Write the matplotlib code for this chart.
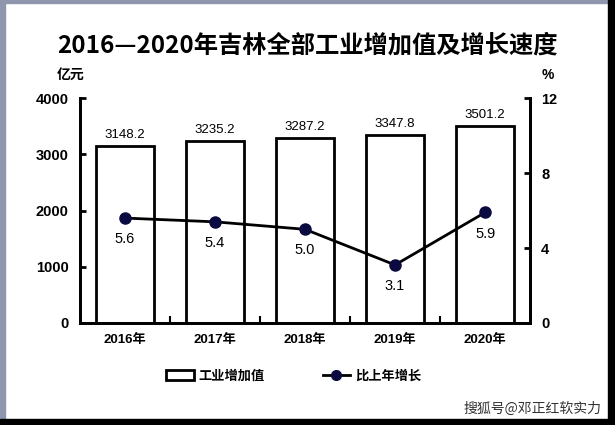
import numpy as np
import matplotlib.pyplot as plt
from matplotlib.patches import Rectangle

plt.rcParams['font.family'] = ['Liberation Sans', 'Noto Sans CJK SC']

years = ['2016年', '2017年', '2018年', '2019年', '2020年']
value = [3148.2, 3235.2, 3287.2, 3347.8, 3501.2]
growth = [5.6, 5.4, 5.0, 3.1, 5.9]

fig = plt.figure(figsize=(6.15, 4.25), dpi=100)
ax = fig.add_axes([0.130, 0.24, 0.732, 0.529])
x = np.arange(len(years))

ax.bar(x, value, width=0.64, color='white', edgecolor='black', linewidth=2)
for i, v in enumerate(value):
    ax.text(i, v + 90, f'{v:.1f}', ha='center', va='bottom', fontsize=9.5)
ax.set_xlim(-0.5, 4.5)
ax.set_ylim(0, 4000)
ax.set_yticks([0, 1000, 2000, 3000, 4000])
ax.set_xticks(x)
ax.set_xticklabels(years, fontsize=9.5, fontweight='bold')
ax.set_xticks(np.arange(0.5, 4.5, 1), minor=True)
ax.tick_params(axis='x', which='major', length=0, pad=8)
ax.tick_params(axis='x', which='minor', direction='in', length=5, width=1.5)
ax.tick_params(axis='y', direction='in', length=4, width=2, labelsize=10.5, pad=8)
for lab in ax.get_yticklabels():
    lab.set_fontweight('bold')
for s in ['left', 'right', 'bottom', 'top']:
    ax.spines[s].set_linewidth(2)
ax.spines['top'].set_visible(False)

ax2 = ax.twinx()
ax2.plot(x, growth, color='black', linewidth=2, marker='o', markersize=8,
         markerfacecolor='#0a0a40', markeredgecolor='#0a0a40', zorder=3)
for i, g in enumerate(growth):
    ax2.text(i, g - 0.75, f'{g:.1f}', ha='center', va='top', fontsize=10.5)
ax2.set_ylim(0, 12)
ax2.set_yticks([0, 4, 8, 12])
ax2.tick_params(axis='y', direction='in', length=4, width=2, labelsize=10.5, pad=8)
for lab in ax2.get_yticklabels():
    lab.set_fontweight('bold')
for s in ['left', 'right', 'bottom']:
    ax2.spines[s].set_linewidth(2)
ax2.spines['top'].set_visible(False)

fig.text(0.5, 0.894, '2016—2020年吉林全部工业增加值及增长速度', ha='center', va='center',
         fontsize=17.5, fontweight='bold', family=['Noto Sans CJK SC'])
fig.text(0.114, 0.824, '亿元', ha='center', va='center', fontsize=10, fontweight='bold',
         family=['Noto Sans CJK SC'])
fig.text(0.891, 0.824, '%', ha='center', va='center', fontsize=10, fontweight='bold')

# legend
fig.patches.append(Rectangle((0.270, 0.105), 0.045, 0.024, transform=fig.transFigure,
                             facecolor='white', edgecolor='black', linewidth=2))
fig.text(0.323, 0.117, '工业增加值', ha='left', va='center', fontsize=9.5, fontweight='bold',
         family=['Noto Sans CJK SC'])
fig.lines.append(plt.Line2D([0.525, 0.569], [0.117, 0.117], transform=fig.transFigure,
                            color='black', linewidth=2))
fig.lines.append(plt.Line2D([0.547], [0.117], transform=fig.transFigure, color='#0a0a40',
                            marker='o', markersize=7, linestyle='none'))
fig.text(0.577, 0.117, '比上年增长', ha='left', va='center', fontsize=9.5, fontweight='bold',
         family=['Noto Sans CJK SC'])

fig.text(0.978, 0.038, '搜狐号@邓正红软实力', ha='right', va='center', fontsize=10,
         color='#333333', family=['Noto Sans CJK SC'])

# frame
fig.patches.append(Rectangle((0, 0), 0.008, 1, transform=fig.transFigure, color='#8e97ad'))
fig.patches.append(Rectangle((0, 0.993), 1, 0.007, transform=fig.transFigure, color='#8e97ad'))
fig.patches.append(Rectangle((0.988, 0), 0.012, 1, transform=fig.transFigure, color='black'))
fig.patches.append(Rectangle((0, 0), 1, 0.014, transform=fig.transFigure, color='black'))

fig.savefig('out.png', dpi=100)
